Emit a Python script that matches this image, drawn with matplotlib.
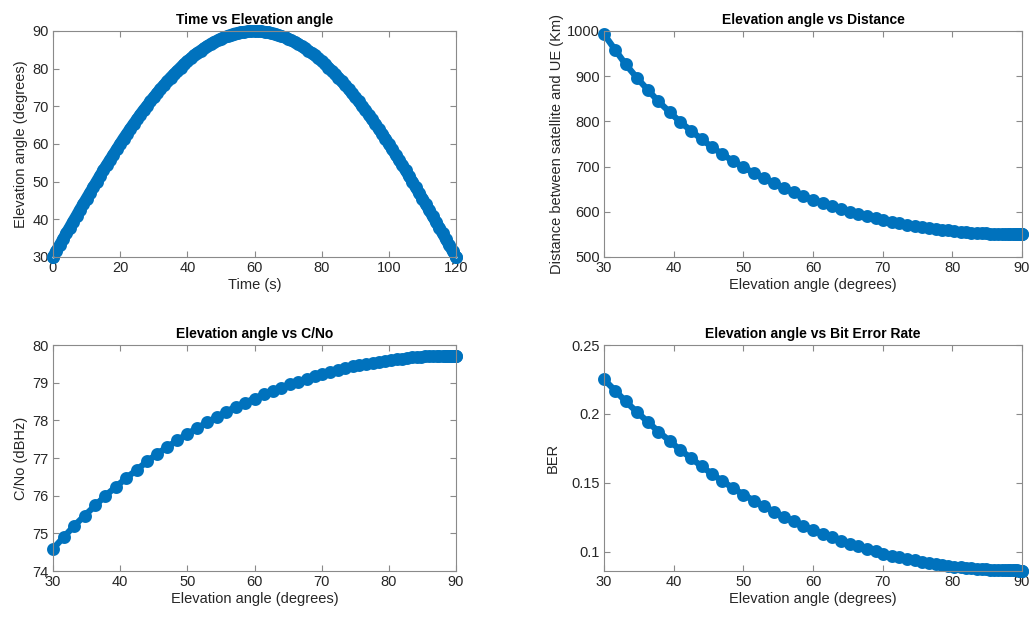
import numpy as np
import matplotlib
matplotlib.use("Agg")
import matplotlib.pyplot as plt

# pass of one LEO satellite, sampled every second
time_s = np.arange(0, 121)

# elevation angle (deg) for t = 0..60 s, rising part of the pass
elev = [30.0, 31.6, 33.1, 34.7, 36.3, 37.8, 39.4, 40.9, 42.5, 44.0,
        45.5, 47.0, 48.5, 50.0, 51.5, 53.0, 54.4, 55.8, 57.2, 58.6,
        60.0, 61.4, 62.7, 64.0, 65.3, 66.5, 67.8, 69.0, 70.1, 71.3,
        72.4, 73.5, 74.6, 75.6, 76.6, 77.6, 78.5, 79.4, 80.3, 81.2,
        82.0, 82.7, 83.5, 84.2, 84.8, 85.4, 86.0, 86.6, 87.1, 87.5,
        88.0, 88.3, 88.7, 89.0, 89.3, 89.5, 89.7, 89.8, 89.9, 90.0,
        90.0]
# falling part mirrors the rising part
elev_time = elev + elev[-2::-1]

dist_km = [992.8, 958.2, 926.3, 896.7, 869.5, 844.3, 820.8, 799.2, 779.2, 760.5,
           743.1, 727.2, 712.4, 698.7, 685.9, 674.1, 663.2, 653.1, 643.6, 634.9,
           626.9, 619.5, 612.6, 606.3, 600.5, 595.3, 590.3, 585.8, 581.7, 578.0,
           574.6, 571.6, 568.8, 566.3, 564.1, 562.1, 560.3, 558.7, 557.3, 556.1,
           555.0, 554.1, 553.2, 552.6, 552.1, 551.6, 551.2, 550.9, 550.7, 550.5,
           550.4, 550.3, 550.2, 550.1, 550.1, 550.0, 550.0, 550.0, 550.0, 550.0,
           550.0]

cno = [74.59, 74.90, 75.19, 75.47, 75.74, 76.00, 76.24, 76.47, 76.69, 76.91,
       77.11, 77.29, 77.47, 77.64, 77.80, 77.95, 78.09, 78.23, 78.36, 78.47,
       78.58, 78.69, 78.78, 78.87, 78.96, 79.03, 79.11, 79.17, 79.23, 79.29,
       79.34, 79.39, 79.43, 79.47, 79.50, 79.53, 79.56, 79.58, 79.61, 79.62,
       79.64, 79.66, 79.67, 79.68, 79.69, 79.70, 79.70, 79.71, 79.71, 79.71,
       79.71, 79.71, 79.72, 79.72, 79.72, 79.72, 79.72, 79.72, 79.72, 79.72,
       79.72]

ber = [0.2250, 0.2169, 0.2091, 0.2015, 0.1942, 0.1872, 0.1805, 0.1740, 0.1679, 0.1620,
       0.1564, 0.1512, 0.1462, 0.1415, 0.1371, 0.1330, 0.1290, 0.1254, 0.1220, 0.1188,
       0.1158, 0.1130, 0.1104, 0.1081, 0.1058, 0.1039, 0.1020, 0.1002, 0.0987, 0.0972,
       0.0959, 0.0948, 0.0937, 0.0927, 0.0918, 0.0911, 0.0904, 0.0897, 0.0892, 0.0887,
       0.0883, 0.0880, 0.0876, 0.0874, 0.0872, 0.0870, 0.0868, 0.0867, 0.0866, 0.0865,
       0.0865, 0.0865, 0.0864, 0.0864, 0.0864, 0.0863, 0.0863, 0.0863, 0.0863, 0.0863,
       0.0863]

plt.rcParams['font.family'] = ['Liberation Sans', 'DejaVu Sans']
plt.rcParams['font.size'] = 10

azul = '#0072BD'
gris = '#8a8a8a'
texto = '#262626'

fig = plt.figure(figsize=(10.35, 6.21), dpi=100)

pos = [[0.0512, 0.5862, 0.3894, 0.3639],
       [0.5836, 0.5862, 0.4039, 0.3639],
       [0.0512, 0.0805, 0.3894, 0.3639],
       [0.5836, 0.0805, 0.4039, 0.3639]]
axs = [fig.add_axes(p) for p in pos]


def estilo(ax):
    for s in ax.spines.values():
        s.set_color(gris)
        s.set_linewidth(0.8)
    ax.tick_params(direction='in', top=True, right=True, length=4, width=0.8,
                   color=gris, labelcolor=texto, labelsize=10.5, pad=3)


def curva(ax, x, y):
    ax.plot(x, y, '-o', color=azul, lw=4.5, ms=5.5, mew=3.8, mfc='none',
            clip_on=False, solid_joinstyle='round')


ax = axs[0]
# dense samples in the original merge into a solid band
ax.plot(time_s, elev_time, '-', color=azul, lw=8.5, clip_on=False,
        solid_joinstyle='round', solid_capstyle='butt')
ax.plot(time_s, elev_time, 'o', color=azul, ms=5.5, mew=3.8, mfc='none', clip_on=False)
ax.plot(time_s, elev_time, 'o', color=azul, ms=5.5, mew=3.8, mfc='white',
        markevery=[0, len(time_s) - 1], clip_on=False)
ax.set_xlim(0, 120)
ax.set_ylim(30, 90)
ax.set_xticks(range(0, 121, 20))
ax.set_yticks(range(30, 91, 10))
ax.set_title('Time vs Elevation angle', fontweight='bold', fontsize=10, pad=5)
ax.set_xlabel('Time (s)', color=texto, fontsize=10.5, labelpad=2)
ax.set_ylabel('Elevation angle (degrees)', color=texto, fontsize=10.5, labelpad=3)
estilo(ax)

ax = axs[1]
curva(ax, elev, dist_km)
ax.set_xlim(30, 90)
ax.set_ylim(500, 1000)
ax.set_xticks(range(30, 91, 10))
ax.set_yticks(range(500, 1001, 100))
ax.set_title('Elevation angle vs Distance', fontweight='bold', fontsize=10, pad=5)
ax.set_xlabel('Elevation angle (degrees)', color=texto, fontsize=10.5, labelpad=2)
ax.set_ylabel('Distance between satellite and UE (Km)', color=texto, fontsize=10.5, labelpad=2)
estilo(ax)

ax = axs[2]
curva(ax, elev, cno)
ax.set_xlim(30, 90)
ax.set_ylim(74, 80)
ax.set_xticks(range(30, 91, 10))
ax.set_yticks(range(74, 81, 1))
ax.set_title('Elevation angle vs C/No', fontweight='bold', fontsize=10, pad=5)
ax.set_xlabel('Elevation angle (degrees)', color=texto, fontsize=10.5, labelpad=2)
ax.set_ylabel('C/No (dBHz)', color=texto, fontsize=10.5, labelpad=3)
estilo(ax)

ax = axs[3]
curva(ax, elev, ber)
ax.set_xlim(30, 90)
ax.set_ylim(0.0860, 0.25)
ax.set_xticks(range(30, 91, 10))
ax.set_yticks([0.1, 0.15, 0.2, 0.25])
ax.set_yticklabels(['0.1', '0.15', '0.2', '0.25'])
ax.set_title('Elevation angle vs Bit Error Rate', fontweight='bold', fontsize=10, pad=5)
ax.set_xlabel('Elevation angle (degrees)', color=texto, fontsize=10.5, labelpad=2)
ax.set_ylabel('BER', color=texto, fontsize=10.5, labelpad=8)
estilo(ax)

fig.savefig('out.png', dpi=100)
